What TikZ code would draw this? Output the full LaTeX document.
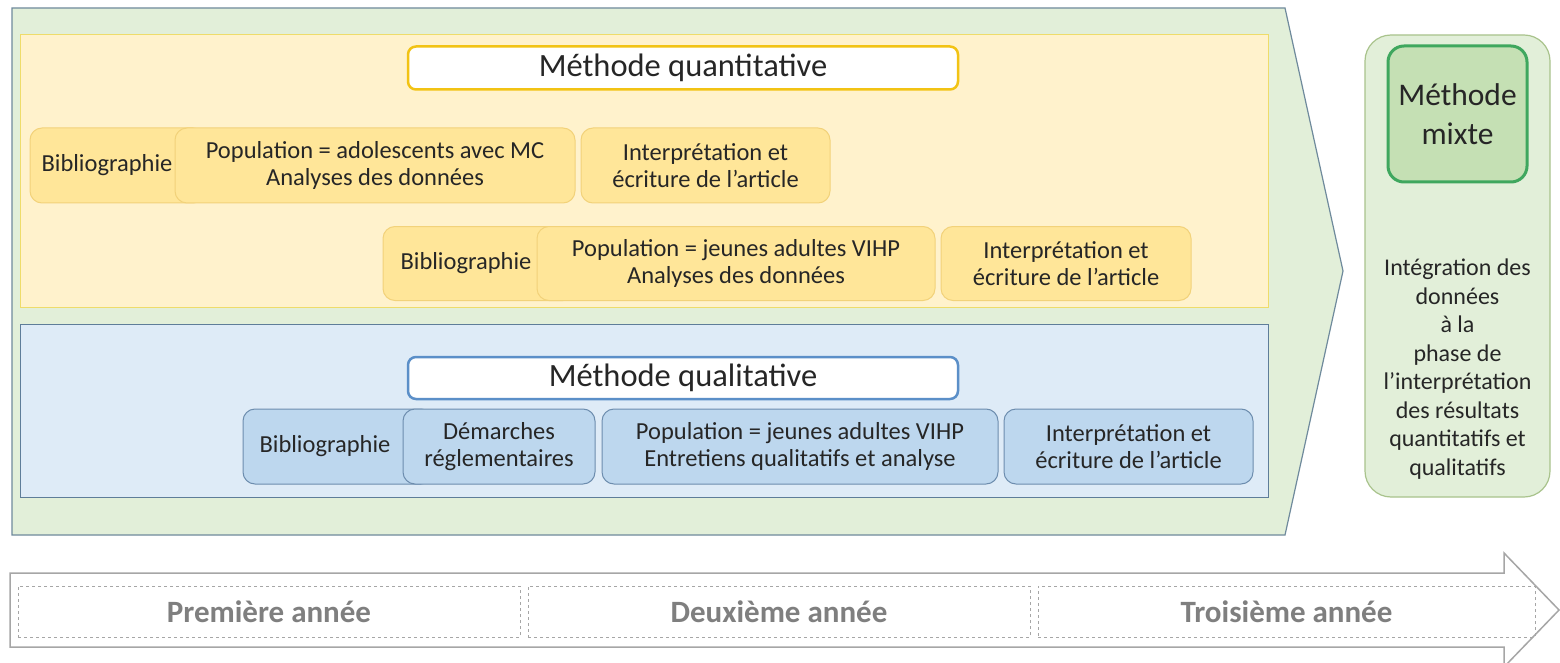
\documentclass[tikz,border=0pt]{standalone}
\usepackage{fontspec}
\setmainfont{Carlito}
\definecolor{bgGreen}{HTML}{E2EFD9}
\definecolor{bgGreenLine}{HTML}{6F8A9C}
\definecolor{qBg}{HTML}{FFF2CC}
\definecolor{qBgLine}{HTML}{EEDC6A}
\definecolor{qFill}{HTML}{FFE699}
\definecolor{qLine}{HTML}{F2D27A}
\definecolor{qHead}{HTML}{F2C314}
\definecolor{bBg}{HTML}{DEEBF7}
\definecolor{bBgLine}{HTML}{5E7D99}
\definecolor{bFill}{HTML}{BDD7EE}
\definecolor{bLine}{HTML}{6D8DAE}
\definecolor{bHead}{HTML}{5B8FC8}
\definecolor{mixLine}{HTML}{A9C38C}
\definecolor{mixHeadLine}{HTML}{3FA75E}
\definecolor{mixHeadFill}{HTML}{C5E0B4}
\definecolor{txt}{HTML}{262626}
\definecolor{yearTxt}{HTML}{7F7F7F}
\definecolor{arrowLine}{HTML}{A6A6A6}
\begin{document}
\begin{tikzpicture}[x=1pt,y=-1pt,
  every node/.style={inner sep=0pt, outer sep=0pt, align=center, text=txt},
  boxfont/.style={font=\fontsize{24.5}{27}\selectfont},
  qbox/.style={boxfont, fill=qFill, draw=qLine, line width=1pt, rounded corners=12pt},
  bbox/.style={boxfont, fill=bFill, draw=bLine, line width=1pt, rounded corners=12pt},
  headbox/.style={font=\fontsize{32.5}{36}\selectfont, fill=white, line width=2.5pt, rounded corners=8pt, minimum width=550pt, minimum height=43pt},
  yearbox/.style={font=\bfseries\fontsize{31}{34}\selectfont, text=yearTxt, draw=arrowLine, dashed, line width=0.8pt, minimum height=51pt}
]
\useasboundingbox (0,0) rectangle (1560,663);
\fill[white] (0,0) rectangle (1560,663);

% big green pentagon arrow
\draw[fill=bgGreen, draw=bgGreenLine, line width=1.2pt] (12,8) -- (1285,8) -- (1343,271) -- (1285,535) -- (12,535) -- cycle;

% quantitative background
\draw[fill=qBg, draw=qBgLine, line width=1pt] (20,35) rectangle (1268,307);
% qualitative background
\draw[fill=bBg, draw=bBgLine, line width=1pt] (20,324) rectangle (1268,497);

% headers
\node[headbox, draw=qHead] (qhead) at (683,68) {Méthode quantitative};
\node[headbox, draw=bHead, minimum height=42pt] (bhead) at (683,378) {Méthode qualitative};

% quantitative row 1
\node[qbox, minimum width=175pt, minimum height=75pt, text width=170pt] (q1bib) at (117.5,165.5) {\hspace*{-21pt}Bibliographie};
\node[qbox, minimum width=400pt, minimum height=75pt] (q1pop) at (375,165.5) {Population = adolescents avec MC\\Analyses des données};
\node[qbox, minimum width=249pt, minimum height=75pt] (q1int) at (705.5,165.5) {Interprétation et\\écriture de l’article};

% quantitative row 2
\node[qbox, minimum width=192pt, minimum height=74pt, text width=190pt] (q2bib) at (479,263.5) {\hspace*{-26pt}Bibliographie};
\node[qbox, minimum width=398pt, minimum height=74pt] (q2pop) at (736,263.5) {Population = jeunes adultes VIHP\\Analyses des données};
\node[qbox, minimum width=250pt, minimum height=74pt] (q2int) at (1066,263.5) {Interprétation et\\écriture de l’article};

% qualitative row
\node[bbox, minimum width=190pt, minimum height=75pt, text width=188pt] (b1bib) at (338,446.5) {\hspace*{-26pt}Bibliographie};
\node[bbox, minimum width=192pt, minimum height=75pt] (b1dem) at (499,446.5) {Démarches\\réglementaires};
\node[bbox, minimum width=396pt, minimum height=75pt] (b1pop) at (800,446.5) {Population = jeunes adultes VIHP\\Entretiens qualitatifs et analyse};
\node[bbox, minimum width=249pt, minimum height=75pt] (b1int) at (1128.5,446.5) {Interprétation et\\écriture de l’article};

% mixed method panel
\node[fill=bgGreen, draw=mixLine, line width=1.2pt, rounded corners=26pt, minimum width=185pt, minimum height=462pt] (mix) at (1457.5,266) {};
\node[fill=mixHeadFill, draw=mixHeadLine, line width=3pt, rounded corners=16pt, minimum width=139pt, minimum height=136pt, font=\fontsize{31.5}{39}\selectfont] (mixhead) at (1457.5,114) {Méthode\\mixte};
\node[font=\fontsize{24}{28.5}\selectfont] (mixtext) at (1457.5,369) {Intégration des\\données\\à la\\phase de\\l’interprétation\\des résultats\\quantitatifs et\\qualitatifs};

% timeline arrow
\draw[fill=white, draw=arrowLine, line width=1.5pt] (10,573) -- (1504,573) -- (1504,553) -- (1559,610) -- (1504,667) -- (1504,647) -- (10,647) -- cycle;
\node[yearbox, minimum width=502pt] (y1) at (269,611.5) {Première année};
\node[yearbox, minimum width=502pt] (y2) at (779,611.5) {Deuxième année};
\node[yearbox, minimum width=497pt] (y3) at (1286.5,611.5) {Troisième année};
\end{tikzpicture}
\end{document}
